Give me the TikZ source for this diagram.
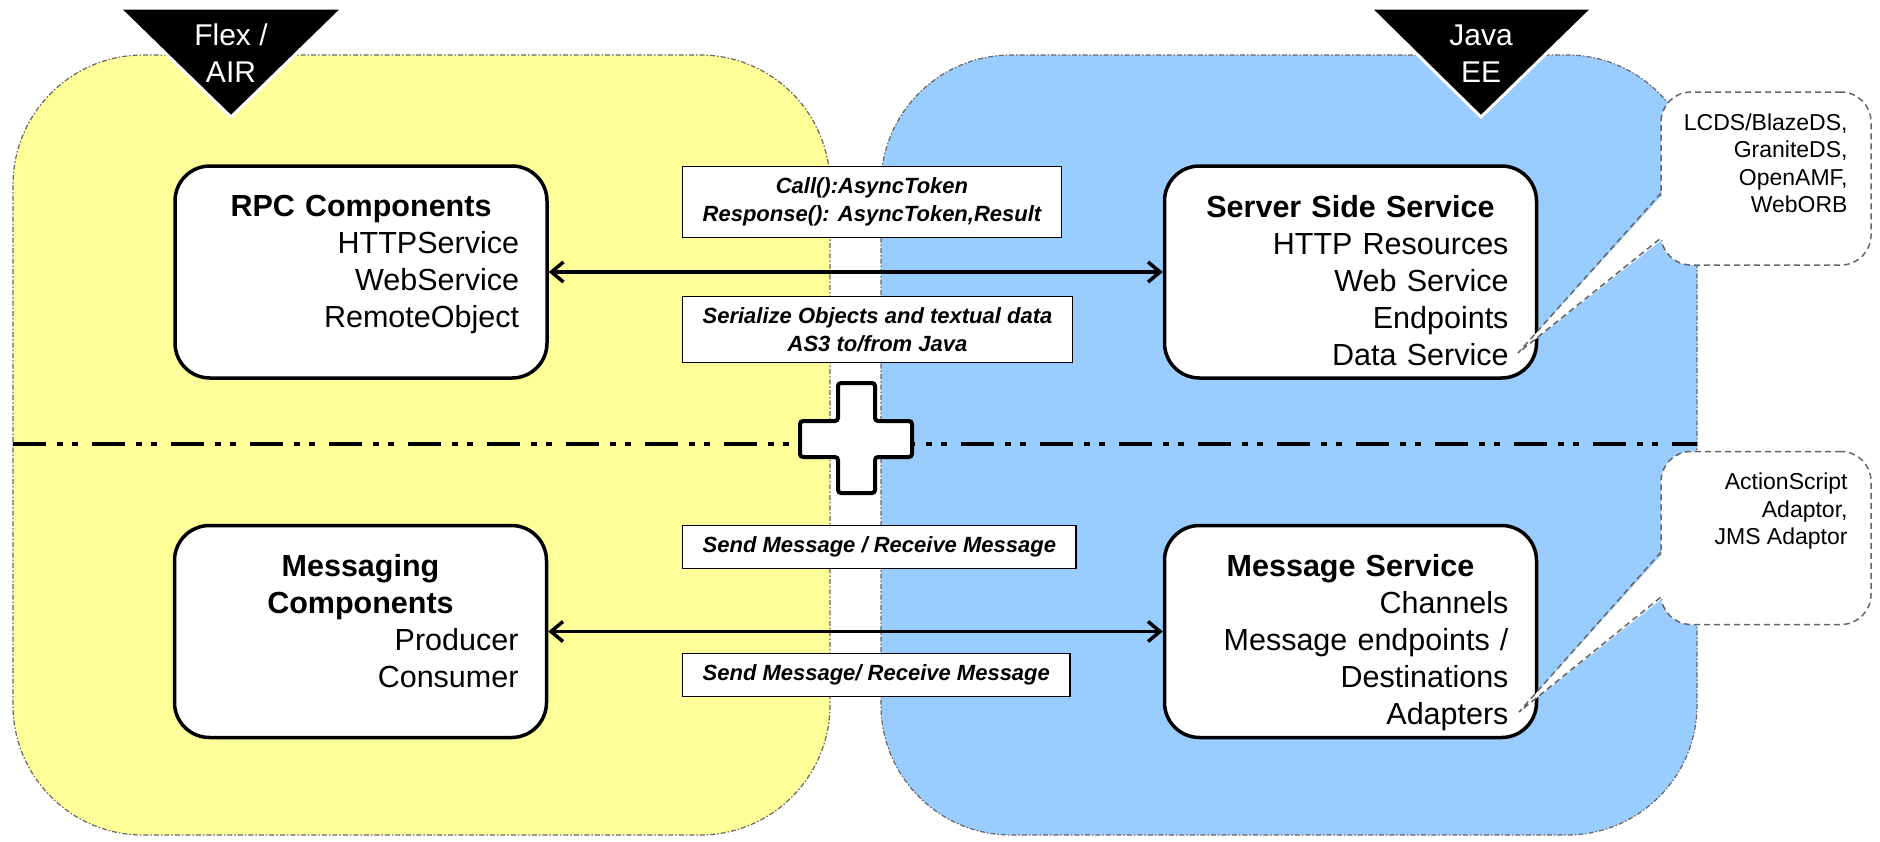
\documentclass[tikz,border=0pt]{standalone}
\usepackage{fontspec}
\setmainfont{Liberation Sans}
\usetikzlibrary{positioning,arrows.meta}
\definecolor{flexyellow}{HTML}{FFFF99}
\definecolor{javablue}{HTML}{99CCFF}
\definecolor{linegray}{HTML}{666666}
\tikzstyle{region} = [draw=linegray, line width=1.2pt, dash pattern=on 5pt off 2pt on 1.5pt off 2pt, rounded corners=130pt]
\tikzstyle{tier} = [fill=black, draw=white, line width=3pt]
\tikzstyle{tiertext} = [text=white, align=center, inner sep=0pt, font=\fontsize{30}{37}\selectfont]
\tikzstyle{comp} = [draw, fill=white, rectangle, line width=3.5pt, rounded corners=35pt, minimum width=372pt, minimum height=212pt]
\tikzstyle{comptext} = [inner sep=0pt, text width=316pt, align=right, font=\fontsize{30.5}{37}\selectfont]
\tikzstyle{msgtag} = [draw, fill=white, rectangle, line width=1.3pt, inner xsep=20pt, inner ysep=11pt, align=center, font=\fontsize{22}{28}\selectfont\bfseries\itshape]
\tikzstyle{note} = [draw=linegray, fill=white, rectangle, line width=1.5pt, dash pattern=on 6pt off 4pt, rounded corners=30pt, minimum width=210pt, minimum height=173pt]
\tikzstyle{notetext} = [inner sep=0pt, align=right, font=\fontsize{23}{27.5}\selectfont]
\tikzstyle{calloutline} = [draw=linegray, line width=1.5pt, dash pattern=on 6pt off 4pt]
\tikzstyle{divider} = [line width=4pt, dash pattern=on 33pt off 11pt on 6pt off 9pt on 6pt off 14pt]
\tikzstyle{plusbox} = [draw, fill=white, line width=4pt, rounded corners=3pt]
\newcommand{\comptitle}[1]{\makebox[\linewidth]{\bfseries #1}}

\begin{document}
\begin{tikzpicture}[x=1pt,y=-1pt,>={Straight Barb[length=12pt,width=20pt]}]
	\useasboundingbox (0,0) rectangle (1880,841);
	\draw [region, fill=flexyellow] (13,55) rectangle (830,835);
	\draw [region, fill=javablue] (881,55) rectangle (1697,835);
	\draw [divider] (13,444) -- (1697,444);
	\draw [plusbox] (838,383) -- (875,383) -- (875,421) -- (912,421) -- (912,457) -- (875,457) -- (875,493) -- (838,493) -- (838,457) -- (800,457) -- (800,421) -- (838,421) -- cycle;
	\draw [tier] (119,8) -- (343,8) -- (231,117) -- cycle;
	\draw [tier] (1370,8) -- (1593,8) -- (1481,117) -- cycle;
	\node (flex) [tiertext] at (231,53.5) {Flex /\\AIR};
	\node (java) [tiertext] at (1481,53.5) {Java\\EE};

	\node (rpc) [comp] at (361,272) {};
	\node (srv) [comp] at (1350.5,272) {};
	\node (msg) [comp] at (360.5,631.5) {};
	\node (msv) [comp] at (1350.5,631.5) {};
	\node (rpct) [comptext, below=30.5pt of rpc.north] {\comptitle{RPC Components}\\HTTPService\\WebService\\RemoteObject};
	\node (srvt) [comptext, below=30.5pt of srv.north] {\comptitle{Server Side Service}\\HTTP Resources\\Web Service\\Endpoints\\Data Service};
	\node (msgt) [comptext, below=30.5pt of msg.north] {\comptitle{Messaging}\\\comptitle{Components}\\Producer\\Consumer};
	\node (msvt) [comptext, below=30.5pt of msv.north] {\comptitle{Message Service}\\Channels\\Message endpoints /\\Destinations\\Adapters};

	\draw [<->, line width=3.5pt] (rpc) edge (srv);
	\draw [<->, line width=3.5pt] (msg) edge (msv);

	\node (call) [msgtag, anchor=west] at (682,202) {Call():AsyncToken\\Response(): AsyncToken,Result};
	\node (ser) [msgtag, anchor=west] at (682,329.5) {Serialize Objects and textual data\\AS3 to/from Java};
	\node (snd) [msgtag, anchor=west] at (682,547) {Send Message / Receive Message};
	\node (rcv) [msgtag, anchor=west] at (682,675) {Send Message/ Receive Message};

	\node (ds) [note] at (1766,178.5) {};
	\coordinate (dsa) at (1661,193);
	\coordinate (dsb) at (1661,238);
	\coordinate (dstip) at (1518,353);
	\fill [white] ([xshift=3pt]dsa) -- (dstip) -- ([xshift=3pt]dsb) -- cycle;
	\draw [calloutline] (dsa) -- (dstip) -- (dsb);
	\node (dst) [notetext, below left=22pt and 24pt of ds.north east] {LCDS/BlazeDS,\\GraniteDS,\\OpenAMF,\\WebORB};

	\node (adp) [note] at (1766,538) {};
	\coordinate (adpa) at (1661,552);
	\coordinate (adpb) at (1661,597);
	\coordinate (adptip) at (1519,712);
	\fill [white] ([xshift=3pt]adpa) -- (adptip) -- ([xshift=3pt]adpb) -- cycle;
	\draw [calloutline] (adpa) -- (adptip) -- (adpb);
	\node (adpt) [notetext, below left=22pt and 24pt of adp.north east] {ActionScript\\Adaptor,\\JMS Adaptor};
\end{tikzpicture}
\end{document}
